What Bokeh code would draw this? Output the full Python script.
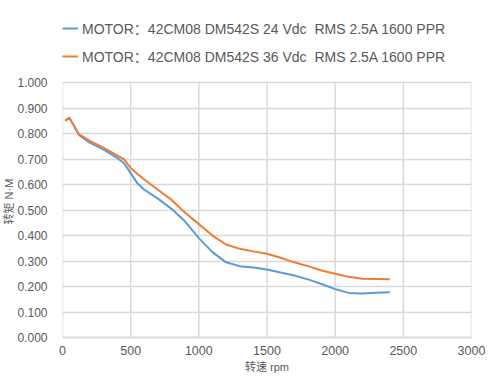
from bokeh.plotting import figure
from bokeh.models import Legend, LegendItem, FixedTicker, NumeralTickFormatter, Range1d, Title
from bokeh.embed import file_html
from bokeh.resources import INLINE

rpm = [20, 50, 80, 120, 200, 300, 400, 450, 500, 550, 600, 700, 800, 900, 1000,
       1100, 1200, 1300, 1400, 1500, 1600, 1700, 1800, 1900, 2000, 2100, 2200, 2300, 2400]
torque_24v = [0.850, 0.862, 0.835, 0.795, 0.765, 0.738, 0.705, 0.685, 0.645, 0.605, 0.580,
              0.545, 0.505, 0.455, 0.390, 0.335, 0.295, 0.280, 0.275, 0.267, 0.255, 0.243,
              0.228, 0.210, 0.190, 0.175, 0.173, 0.176, 0.178]
torque_36v = [0.852, 0.863, 0.835, 0.798, 0.772, 0.745, 0.715, 0.700, 0.665, 0.642, 0.620,
              0.580, 0.540, 0.490, 0.445, 0.400, 0.365, 0.348, 0.338, 0.329, 0.313, 0.295,
              0.280, 0.263, 0.250, 0.238, 0.231, 0.230, 0.229]
label_24v = "MOTOR：42CM08 DM542S 24 Vdc  RMS 2.5A 1600 PPR"
label_36v = "MOTOR：42CM08 DM542S 36 Vdc  RMS 2.5A 1600 PPR"
x_ticks = [0, 500, 1000, 1500, 2000, 2500, 3000]
y_ticks = [0.0, 0.1, 0.2, 0.3, 0.4, 0.5, 0.6, 0.7, 0.8, 0.9, 1.0]
y_min, y_max = 0.0, 1.0

FONT = "Liberation Sans, Noto Sans CJK SC"
TXT = "#595959"
GRID = "#d9d9d9"

# frame extends above 1.0 so the legend can sit inside it (top area left blank)
p = figure(width=499, height=381, output_backend="svg", toolbar_location=None,
           x_range=Range1d(0, 3000), y_range=Range1d(y_min, 1.303),
           min_border_left=62, min_border_right=28, min_border_top=5, min_border_bottom=44)
p.outline_line_color = None

# vertical grid lines limited to the 0..1 band
p.segment(x0=x_ticks, y0=[y_min] * len(x_ticks), x1=x_ticks, y1=[y_max] * len(x_ticks),
          line_color=GRID, line_width=1.5)

r1 = p.line(rpm, torque_24v, line_color="#5B9BD5", line_width=2)
r2 = p.line(rpm, torque_36v, line_color="#ED7D31", line_width=2)

p.xaxis.ticker = FixedTicker(ticks=x_ticks)
p.yaxis.ticker = FixedTicker(ticks=y_ticks)
p.yaxis.formatter = NumeralTickFormatter(format="0.000")
p.yaxis.bounds = (y_min, y_max)
for ax in (p.xaxis[0], p.yaxis[0]):
    ax.major_tick_line_color = None
    ax.minor_tick_line_color = None
    ax.major_label_text_font = FONT
    ax.major_label_text_font_size = "12.5px"
    ax.major_label_text_color = TXT
    ax.axis_label_text_font = FONT
    ax.axis_label_text_font_size = "11px"
    ax.axis_label_text_font_style = "normal"
    ax.axis_label_text_color = TXT
p.yaxis.major_label_text_font_size = "12px"
p.xaxis.axis_line_color = GRID
p.xaxis.axis_line_width = 2
p.yaxis.axis_line_color = None
p.xaxis.major_label_standoff = 2
p.yaxis.major_label_standoff = 9
p.xaxis.axis_label = "转速 rpm"
p.xaxis.axis_label_standoff = 3

# y-axis label as a left-side title, shifted up to sit beside the 0..1 band
ylab = Title(text="转矩 N·M", align="left", offset=113, standoff=0,
             text_font=FONT, text_font_size="11px", text_font_style="normal",
             text_color=TXT)
p.add_layout(ylab, "left")

p.xgrid.visible = False
p.ygrid.ticker = FixedTicker(ticks=y_ticks)
p.ygrid.grid_line_color = GRID
p.ygrid.grid_line_width = 1.5

legend = Legend(items=[LegendItem(label=label_24v, renderers=[r1]),
                       LegendItem(label=label_36v, renderers=[r2])],
                location=(0, 271), orientation="vertical",
                glyph_width=16, glyph_height=16, label_height=16,
                label_standoff=4, spacing=8, padding=0, margin=0,
                border_line_color=None, background_fill_alpha=0,
                label_text_font=FONT, label_text_font_size="14px", label_text_color=TXT)
p.add_layout(legend, "center")

open("out.html", "w").write(file_html(p, INLINE))
